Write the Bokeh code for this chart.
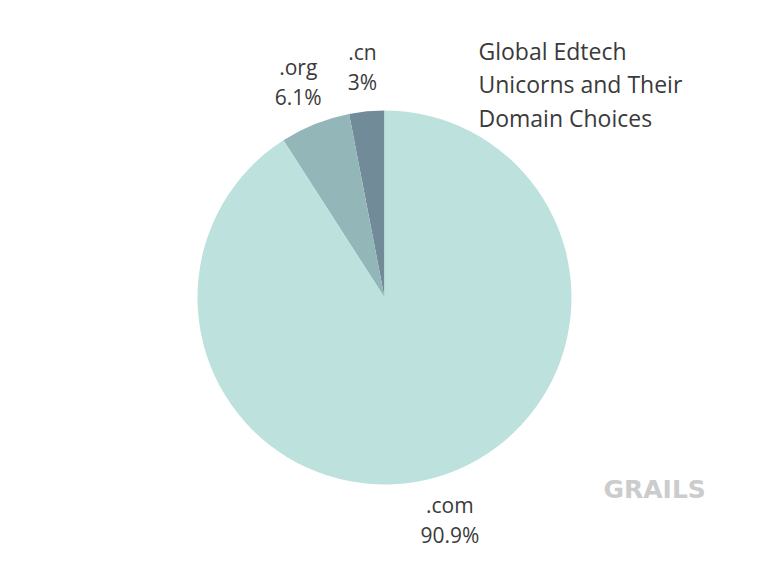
import numpy as np
from bokeh.plotting import figure
from bokeh.models import Range1d, ColumnDataSource
from bokeh.core.properties import value
from bokeh.embed import file_html
from bokeh.resources import INLINE

# data
domains = [".cn", ".org", ".com"]
counts = [1, 2, 30]
pct_labels = ["3%", "6.1%", "90.9%"]
colors = ["#718b98", "#93b6b9", "#bde2dd"]
title_lines = ["Global Edtech", "Unicorns and Their", "Domain Choices"]

W, H = 752, 553
p = figure(width=W, height=H, output_backend="svg", toolbar_location=None,
           x_range=Range1d(0, W), y_range=Range1d(0, H), min_border=0,
           outline_line_color=None)
p.axis.visible = False
p.grid.visible = False
p.background_fill_color = "white"

cx, cy, R = 384, H - 297, 187
vals = np.array(counts, dtype=float)
frac = vals / vals.sum()
start = np.pi / 2 + np.concatenate([[0], np.cumsum(frac)[:-1]]) * 2 * np.pi
end = np.pi / 2 + np.cumsum(frac) * 2 * np.pi
mid = (start + end) / 2

src = ColumnDataSource(dict(start=start, end=end, color=colors))
p.wedge(x=cx, y=cy, radius=R, radius_units="screen", start_angle="start",
        end_angle="end", fill_color="color", line_color=None, source=src)

LR = 232
lx = cx + LR * np.cos(mid)
ly = cy + LR * np.sin(mid)
p.text(x=lx, y=ly + 15, text=domains, text_font=value("Open Sans"),
       text_font_size="21px", text_color="#3a3a3a", text_align="center",
       text_baseline="middle")
p.text(x=lx, y=ly - 15, text=pct_labels, text_font=value("Open Sans"),
       text_font_size="21px", text_color="#3a3a3a", text_align="center",
       text_baseline="middle")

ty = [H - 50 - i * 33.5 for i in range(len(title_lines))]
p.text(x=[478] * len(title_lines), y=ty, text=title_lines,
       text_font=value("Open Sans"), text_font_size="23px",
       text_color="#3a3a3a", text_align="left", text_baseline="middle")

p.text(x=[603], y=[H - 489], text=["GRAILS"], text_font=value("DejaVu Sans"),
       text_font_style="bold", text_font_size="25px", text_color="#cccccc",
       text_align="left", text_baseline="middle")

open("out.html", "w").write(file_html(p, INLINE))
